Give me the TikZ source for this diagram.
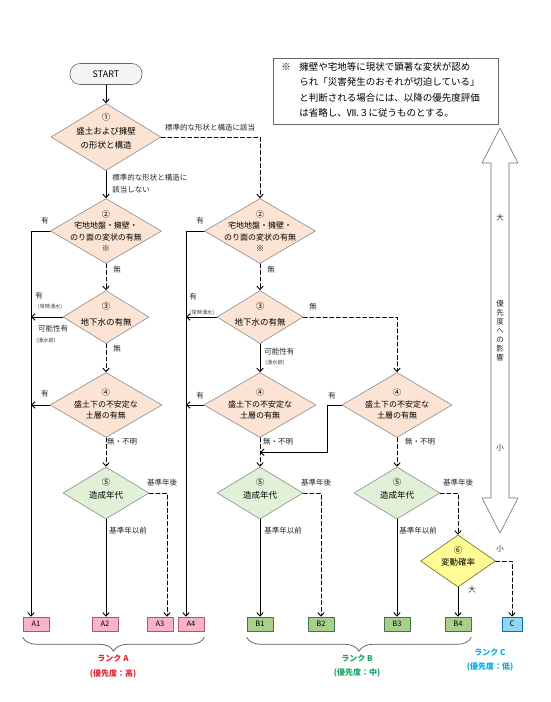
\documentclass[tikz,border=0pt]{standalone}
\usepackage{fontspec}
\setmainfont{Noto Sans CJK JP}
\usetikzlibrary{arrows.meta,shapes.geometric,calc,decorations.pathreplacing}

\definecolor{cam}{RGB}{252,228,212}
\definecolor{xanh}{RGB}{224,241,216}
\definecolor{vang}{RGB}{255,252,150}
\definecolor{hong}{RGB}{248,180,198}
\definecolor{la}{RGB}{168,207,140}
\definecolor{lam}{RGB}{145,214,246}
\definecolor{doA}{RGB}{226,32,48}
\definecolor{xanhB}{RGB}{22,165,98}
\definecolor{lamC}{RGB}{0,172,228}

\begin{document}
\begin{tikzpicture}[x=1pt,y=-1pt,line join=round,line cap=round,
	>={Straight Barb[length=3.5pt,width=6.5pt]},line width=0.9pt,
	hinhthoi/.style 2 args={diamond,draw=black!45,line width=0.6pt,fill=cam,inner sep=0pt,minimum width=#1,minimum height=#2},
	chu/.style={align=center,inner sep=0pt,font=\fontsize{8}{11.5}\selectfont},
	nhan/.style={inner sep=0pt,text=black!85,font=\fontsize{7.5}{9}\selectfont},
	nhannho/.style={inner sep=0pt,text=black!75,font=\fontsize{5.2}{6}\selectfont},
	hop/.style={rectangle,line width=0.6pt,minimum width=26,minimum height=14,inner sep=0pt,font=\fontsize{7.5}{8}\selectfont},
	hopA/.style={hop,draw=doA!60!black!70,fill=hong},
	hopB/.style={hop,draw=xanhB!50!black!80,fill=la},
	hopC/.style={hop,draw=lamC!70!black,fill=lam,minimum width=20},
	duongdut/.style={dash pattern=on 4pt off 2.6pt},
	ngoac/.style={decorate,decoration={brace,mirror,amplitude=14pt},line width=0.7pt,black!65}]
	\fill[white] (0,0) rectangle (550,702);
	\useasboundingbox (0,0) rectangle (550,702);
	% Ghi chú
	\node[draw=black!60,line width=0.6pt,minimum width=225,minimum height=66,inner sep=0pt] (ghichu) at (385.5,91) {};
	\node[anchor=west,inner sep=0pt,font=\fontsize{9.5}{15}\selectfont] (kome) at (281,67) {※};
	\node[anchor=west,align=left,inner sep=0pt,font=\fontsize{9.5}{15.3}\selectfont] (ghichutxt) at (299,90)
		{擁壁や宅地等に現状で顕著な変状が認め\\られ「災害発生のおそれが切迫している」\\と判断される場合には、以降の優先度評価\\は省略し、Ⅶ.３に従うものとする。};
	% Cột trái
	\node[draw=black!60,line width=0.6pt,fill=gray!8,rounded corners=10pt,minimum width=72,minimum height=21,font=\fontsize{9}{10}\selectfont] (start) at (106,74) {START};
	\node[hinhthoi={110}{67}] (d1) at (106,137) {};
	\node[chu,font=\fontsize{8.5}{14}\selectfont] (t1) at (106,131) {①\\盛土および擁壁\\の形状と構造};
	\node[hinhthoi={111}{65}] (d2a) at (106,231) {};
	\node[chu] (t2a) at (106,231) {②\\宅地地盤・擁壁・\\のり面の変状の有無\\※};
	\node[hinhthoi={86}{53}] (d3a) at (106,317) {};
	\node[chu,font=\fontsize{8.5}{16}\selectfont] (t3a) at (106,314) {③\\地下水の有無};
	\node[hinhthoi={112}{65}] (d4a) at (106,405) {};
	\node[chu] (t4a) at (106,404) {④\\盛土下の不安定な\\土層の有無};
	\node[hinhthoi={86}{52},fill=xanh] (d5a) at (106,493) {};
	\node[chu,font=\fontsize{8.5}{13}\selectfont] (t5a) at (106,489) {⑤\\造成年代};
	% Cột giữa
	\node[hinhthoi={111}{65}] (d2b) at (260,231) {};
	\node[chu] (t2b) at (260,231) {②\\宅地地盤・擁壁・\\のり面の変状の有無\\※};
	\node[hinhthoi={86}{53}] (d3b) at (260,317) {};
	\node[chu,font=\fontsize{8.5}{16}\selectfont] (t3b) at (260,314) {③\\地下水の有無};
	\node[hinhthoi={112}{65}] (d4b) at (260,405) {};
	\node[chu] (t4b) at (260,404) {④\\盛土下の不安定な\\土層の有無};
	\node[hinhthoi={86}{52},fill=xanh] (d5b) at (260,493) {};
	\node[chu,font=\fontsize{8.5}{13}\selectfont] (t5b) at (260,489) {⑤\\造成年代};
	% Cột phải
	\node[hinhthoi={110}{65}] (d4c) at (397,405) {};
	\node[chu] (t4c) at (397,404) {④\\盛土下の不安定な\\土層の有無};
	\node[hinhthoi={86}{52},fill=xanh] (d5c) at (397,493) {};
	\node[chu,font=\fontsize{8.5}{13}\selectfont] (t5c) at (397,489) {⑤\\造成年代};
	\node[hinhthoi={75}{52},fill=vang,draw=olive!70!black] (d6) at (458,561) {};
	\node[chu,font=\fontsize{8.5}{12}\selectfont] (t6) at (458,556) {⑥\\変動確率};
	% Hộp kết quả
	\node[hopA] (A1) at (36,624) {A1};
	\node[hopA] (A2) at (105,624) {A2};
	\node[hopA] (A3) at (160,624) {A3};
	\node[hopA] (A4) at (191,624) {A4};
	\node[hopB] (B1) at (260,624) {B1};
	\node[hopB] (B2) at (321,624) {B2};
	\node[hopB] (B3) at (397,624) {B3};
	\node[hopB] (B4) at (458,624) {B4};
	\node[hopC] (C) at (512,624) {C};
	\coordinate (L1) at ([xshift=-5]A1.north);
	\coordinate (L2) at ([xshift=-5]A4.north);
	\coordinate (J) at ($(d4b.south)!0.5!(d5b.north)$);
	% Đường nối
	\draw[->] (start) -- (d1);
	\draw[->] (d1) -- (d2a);
	\draw[->,duongdut] (d1.east) -| (d2b.north);
	\draw[->] (d2a.west) -| (L1);
	\draw[->] (d3a.west) -- (d3a.west -| L1);
	\draw[->] (d4a.west) -- (d4a.west -| L1);
	\draw[->,duongdut] (d2a) -- (d3a);
	\draw[->,duongdut] (d3a) -- (d4a);
	\draw[->,duongdut] (d4a) -- (d5a);
	\draw[->] (d5a) -- (d5a.south |- A2.north);
	\draw[->,duongdut] (d5a.east) -| ([xshift=7]A3.north);
	\draw[->] (d2b.west) -| (L2);
	\draw[->] (d3b.west) -- (d3b.west -| L2);
	\draw[->] (d4b.west) -- (d4b.west -| L2);
	\draw[->,duongdut] (d2b) -- (d3b);
	\draw[->] (d3b) -- (d4b);
	\draw[->,duongdut] (d3b.east) -| (d4c.north);
	\draw[->,duongdut] (d4b) -- (d5b);
	\draw[->] (d4c.west) -- ++(-14,0) |- (J);
	\draw[->,duongdut] (d4c) -- (d5c);
	\draw[->] (d5b) -- (B1);
	\draw[->,duongdut] (d5b.east) -| (B2.north);
	\draw[->] (d5c) -- (B3);
	\draw[->,duongdut] (d5c.east) -| (d6.north);
	\draw[->] (d6) -- (B4);
	\draw[->,duongdut] (d6.east) -| (C.north);
	% Nhãn
	\node[nhan] (n1) at (210,128) {標準的な形状と構造に該当};
	\node[nhan,anchor=west,align=left,font=\fontsize{7.5}{12}\selectfont] (n2) at (112,184) {標準的な形状と構造に\\該当しない};
	\node[nhan] (n3) at (45,221) {有};
	\node[nhan] (n4) at (117,270) {無};
	\node[nhan] (n5) at (39,296) {有};
	\node[nhannho] (n6) at (50,307) {(常時湧水)};
	\node[nhan] (n7) at (53,329) {可能性有};
	\node[nhannho] (n8) at (46,341) {(湧水跡)};
	\node[nhan] (n9) at (117,349) {無};
	\node[nhan] (n10) at (45,394) {有};
	\node[nhan] (n11) at (122,442) {無・不明};
	\node[nhan] (n12) at (162,483) {基準年後};
	\node[nhan] (n13) at (128,531) {基準年以前};
	\node[nhan] (n14) at (200,221) {有};
	\node[nhan] (n15) at (271,270) {無};
	\node[nhan] (n16) at (193,297) {有};
	\node[nhannho] (n17) at (202,313) {(常時湧水)};
	\node[nhan] (n18) at (313,307) {無};
	\node[nhan,anchor=west] (n19) at (264,352) {可能性有};
	\node[nhannho,anchor=west] (n20) at (265,363) {(湧水跡)};
	\node[nhan] (n21) at (200,396) {有};
	\node[nhan] (n22) at (278,442) {無・不明};
	\node[nhan] (n23) at (332,396) {有};
	\node[nhan] (n24) at (420,442) {無・不明};
	\node[nhan] (n25) at (316,483) {基準年後};
	\node[nhan] (n26) at (283,531) {基準年以前};
	\node[nhan] (n27) at (458,483) {基準年後};
	\node[nhan] (n28) at (418,531) {基準年以前};
	\node[nhan] (n29) at (500,549) {小};
	\node[nhan] (n30) at (472,590) {大};
	% Mũi tên ưu tiên
	\draw[black!55,line width=0.6pt,fill=white] (500,128) -- (518,163) -- (509,163) -- (509,498) -- (518,498) -- (500,533)
		-- (482,498) -- (491,498) -- (491,163) -- (482,163) -- cycle;
	\node[nhan] (dai) at (500,218) {大};
	\node[nhan,align=center,font=\fontsize{7.5}{9}\selectfont] (anhhuong) at (500,331) {優\\先\\度\\へ\\の\\影\\響};
	\node[nhan] (tieu) at (500,448) {小};
	% Ngoặc hạng
	\draw[ngoac] ([yshift=-6]A1.south west) -- ([yshift=-6]A4.south east);
	\draw[ngoac] ([yshift=-6]B1.south west) -- ([yshift=-6]B4.south east);
	\node[text=doA,align=center,font=\fontsize{8}{15}\selectfont\bfseries] (hangA) at (113,666) {ランク A\\(優先度：高)};
	\node[text=xanhB,align=center,font=\fontsize{8}{14}\selectfont\bfseries] (hangB) at (357,666) {ランク B\\(優先度：中)};
	\node[text=lamC,align=center,font=\fontsize{8}{14}\selectfont\bfseries] (hangC) at (490,660) {ランク C\\(優先度：低)};
\end{tikzpicture}
\end{document}
